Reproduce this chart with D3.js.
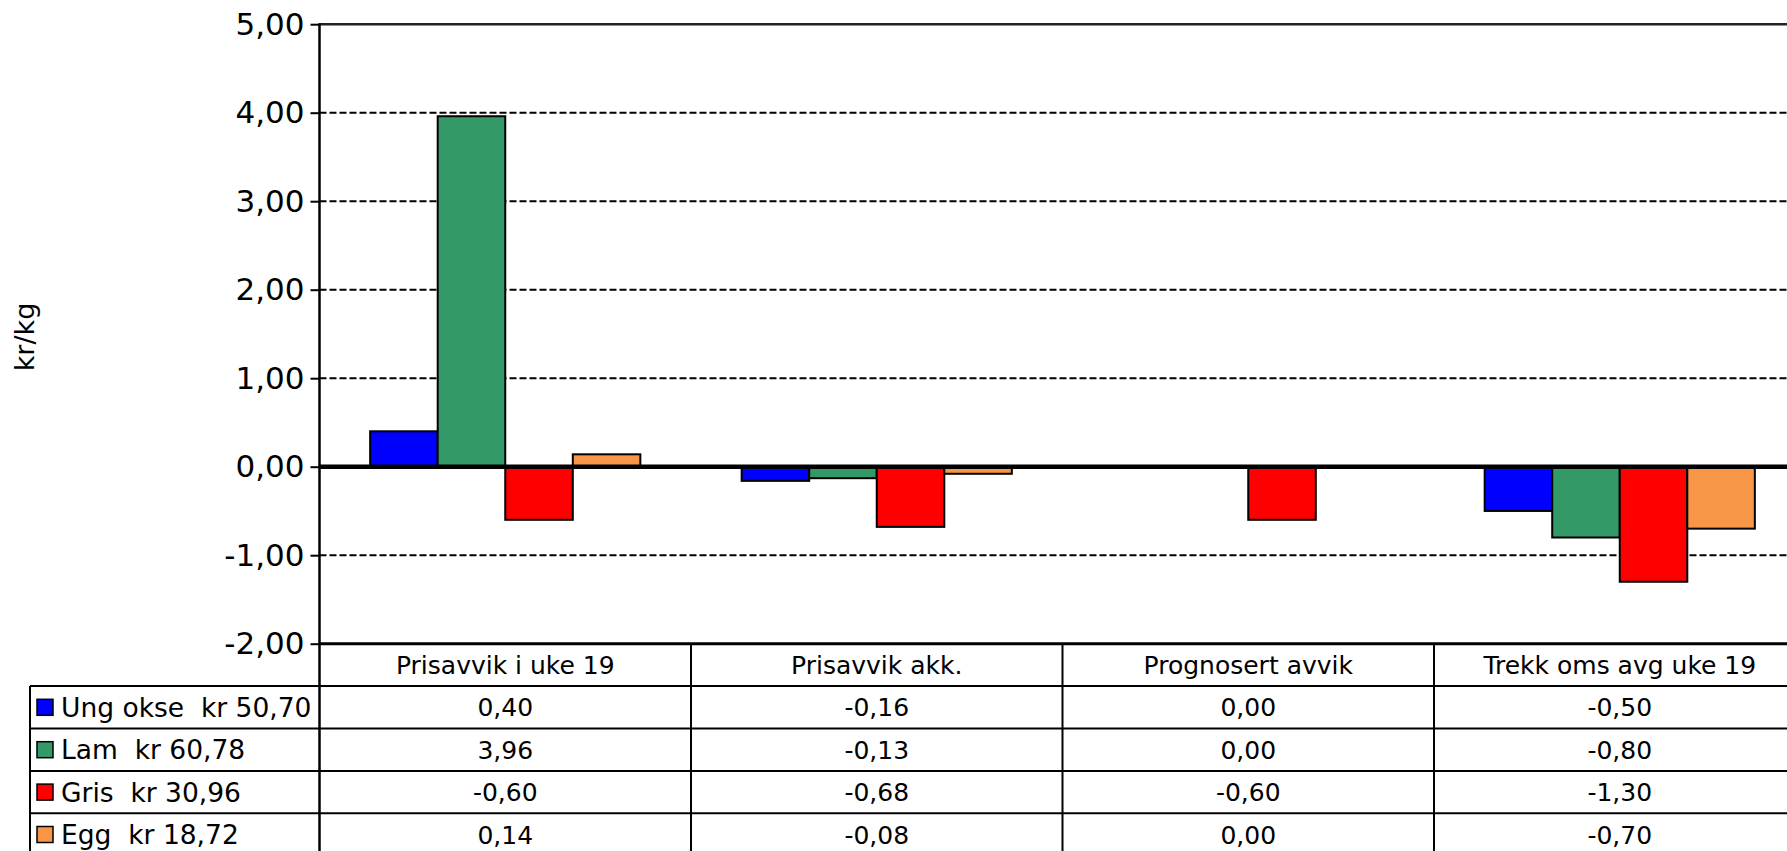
<!DOCTYPE html>
<html>
<head>
<meta charset="utf-8">
<script src="https://cdn.jsdelivr.net/npm/d3@7"></script>
<style>
  body { margin: 0; background: #fff; }
  svg { display: block; }
  text { font-family: "DejaVu Sans", Verdana, sans-serif; fill: #000; }
</style>
</head>
<body>
<svg id="chart" width="1787" height="851"></svg>
<script>
// data
const categories = ["Prisavvik i uke 19", "Prisavvik akk.", "Prognosert avvik", "Trekk oms avg uke 19"];
const seriesNames = ["Ung okse  kr 50,70", "Lam  kr 60,78", "Gris  kr 30,96", "Egg  kr 18,72"];
const ungOkse = [0.40, -0.16, 0.00, -0.50];
const lam = [3.96, -0.13, 0.00, -0.80];
const gris = [-0.60, -0.68, -0.60, -1.30];
const egg = [0.14, -0.08, 0.00, -0.70];
const seriesColors = ["#0000ff", "#339966", "#ff0000", "#f79646"];
const yTicks = [5, 4, 3, 2, 1, 0, -1, -2];

const values = [ungOkse, lam, gris, egg];

const svg = d3.select("#chart");
const W = 1787, H = 851;

const plotLeft = 319.5, band = 371.5;
const plotTop = 24.2, plotBottom = 643.7;
const tableLeft = 30, rowH = 42.4;

const nb = d3.formatLocale({decimal: ",", thousands: " ", grouping: [3], currency: ["", ""], minus: "-"}).format(".2f");

let x0 = d3.scaleBand().domain(categories).range([plotLeft, plotLeft + band * categories.length]);
let x1 = d3.scaleBand().domain(seriesNames).range([0, x0.bandwidth()]).paddingOuter(0.75);
let y = d3.scaleLinear().domain([-2, 5]).range([plotBottom, plotTop]);

// grid lines
svg.append("g").selectAll("line").data(yTicks.filter(d => d != 0 && d != -2 && d != 5)).join("line")
    .attr("x1", plotLeft).attr("x2", W).attr("y1", d => y(d)).attr("y2", d => y(d))
    .attr("stroke", "#000").attr("stroke-width", 2).attr("stroke-dasharray", "7,3");
svg.append("line").attr("x1", plotLeft).attr("x2", W).attr("y1", y(5)).attr("y2", y(5))
    .attr("stroke", "#222").attr("stroke-width", 2.5);

// bars
let groups = svg.append("g").selectAll("g").data(seriesNames).join("g")
    .attr("fill", (d, i) => seriesColors[i]);
groups.selectAll("rect").data((s, i) => values[i].map((v, j) => ({s: s, cat: categories[j], v: v}))).join("rect")
    .attr("x", d => x0(d.cat) + x1(d.s))
    .attr("width", x1.bandwidth())
    .attr("y", d => y(Math.max(0, d.v)))
    .attr("height", d => Math.abs(y(d.v) - y(0)))
    .attr("stroke", "#000").attr("stroke-width", 2);

// zero line on top
svg.append("line").attr("x1", plotLeft).attr("x2", W).attr("y1", y(0)).attr("y2", y(0))
    .attr("stroke", "#000").attr("stroke-width", 4.5);

// y axis
let yAxis = d3.axisLeft(y).tickValues(yTicks).tickSize(9).tickPadding(6).tickFormat(nb);
let ag = svg.append("g").attr("transform", `translate(${plotLeft},0)`).call(yAxis);
ag.select(".domain").remove();
ag.selectAll(".tick line").attr("stroke", "#000").attr("stroke-width", 2);
ag.selectAll(".tick text").attr("font-size", 31).attr("font-family", "DejaVu Sans, Verdana, sans-serif").attr("fill", "#000");
svg.append("line").attr("x1", plotLeft).attr("x2", plotLeft).attr("y1", plotTop - 1).attr("y2", H)
    .attr("stroke", "#000").attr("stroke-width", 2.5);

svg.append("text").attr("transform", "translate(34,337) rotate(-90)")
    .attr("text-anchor", "middle").attr("font-size", 27).text("kr/kg");

// data table
let tb = svg.append("g");
tb.append("line").attr("x1", plotLeft).attr("x2", W).attr("y1", plotBottom).attr("y2", plotBottom)
    .attr("stroke", "#000").attr("stroke-width", 3);
let rowLines = d3.range(1, 5).map(i => plotBottom + i * rowH);
tb.selectAll("line.row").data(rowLines).join("line").attr("class", "row")
    .attr("x1", tableLeft).attr("x2", W).attr("y1", d => d).attr("y2", d => d)
    .attr("stroke", "#000").attr("stroke-width", 2);
tb.append("line").attr("x1", tableLeft).attr("x2", tableLeft).attr("y1", plotBottom + rowH).attr("y2", H)
    .attr("stroke", "#000").attr("stroke-width", 2);
tb.selectAll("line.col").data(categories.slice(1)).join("line").attr("class", "col")
    .attr("x1", d => x0(d)).attr("x2", d => x0(d)).attr("y1", plotBottom).attr("y2", H)
    .attr("stroke", "#000").attr("stroke-width", 2);

tb.selectAll("text.head").data(categories).join("text").attr("class", "head")
    .attr("x", d => x0(d) + x0.bandwidth() / 2).attr("y", plotBottom + rowH / 2)
    .attr("dy", "0.36em").attr("text-anchor", "middle").attr("font-size", 25).text(d => d);

let rows = tb.selectAll("g.r").data(seriesNames).join("g").attr("class", "r")
    .attr("transform", (d, i) => `translate(0,${plotBottom + (i + 1.5) * rowH})`);
rows.append("rect").attr("x", 37).attr("y", -8).attr("width", 16).attr("height", 16)
    .attr("fill", (d, i) => seriesColors[i]).attr("stroke", "#000").attr("stroke-width", 1.5);
rows.append("text").attr("x", 61).attr("dy", "0.36em").attr("font-size", 26.5)
    .style("white-space", "pre").text(d => d);
rows.selectAll("text.v").data((s, i) => values[i].map((v, j) => ({cat: categories[j], v: v}))).join("text")
    .attr("class", "v")
    .attr("x", d => x0(d.cat) + x0.bandwidth() / 2).attr("dy", "0.36em")
    .attr("text-anchor", "middle").attr("font-size", 25).text(d => nb(d.v));
</script>
</body>
</html>
